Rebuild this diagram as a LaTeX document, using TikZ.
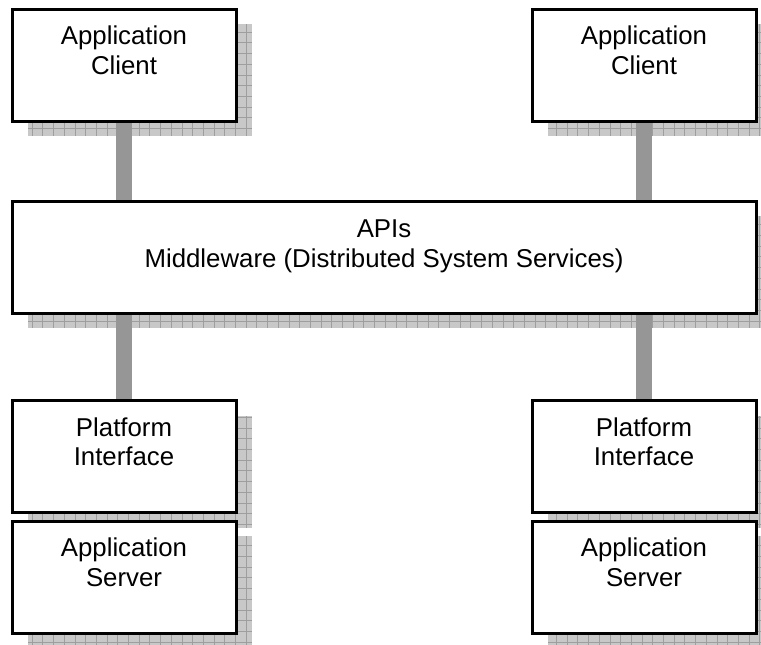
\documentclass[tikz,border=0pt]{standalone}
\usepackage{fontspec}
\setmainfont{Liberation Sans}
\usetikzlibrary{backgrounds}

\definecolor{shadefill}{RGB}{200,200,200}
\definecolor{shadegrid}{RGB}{158,158,158}
\definecolor{linkgray}{RGB}{150,150,150}

\tikzset{
  block/.style={draw=black, line width=3pt, fill=white, inner sep=0pt, outer sep=0pt,
    minimum width=224pt, minimum height=112pt, anchor=north west},
  wideblock/.style={block, minimum width=744pt},
  caption/.style={anchor=north, align=center, inner sep=0pt,
    font=\fontsize{25.8}{29.6}\selectfont},
  link/.style={draw=linkgray, line width=16pt},
}

% grid-textured drop shadow behind a block, offset right and down
\newcommand{\gridshade}[1]{%
  \begin{scope}
    \clip ([shift={(16,15)}]#1.north west) rectangle ([shift={(16,15)}]#1.south east);
    \fill[shadefill] ([shift={(16,15)}]#1.north west) rectangle ([shift={(16,15)}]#1.south east);
    \draw[shadegrid, line width=0.8pt, step=10.7pt]
      ([shift={(16,15)}]#1.north west) grid ([shift={(16,15)}]#1.south east);
  \end{scope}}

\begin{document}
\begin{tikzpicture}[x=1pt, y=-1pt]
  \useasboundingbox (0,0) rectangle (761,645);
  \clip (0,0) rectangle (761,645);

  % boxes
  \node[block] (clientL) at (12,9) {};
  \node[block] (clientR) at (532,9) {};
  \node[wideblock] (mw) at (12,201) {};
  \node[block] (platL) at (12,400.5) {};
  \node[block] (platR) at (532,400.5) {};
  \node[block] (srvL) at (12,521) {};
  \node[block] (srvR) at (532,521) {};

  % captions
  \node[caption] (clientLt) at ([yshift=-17pt]clientL.north) {Application\\Client};
  \node[caption] (clientRt) at ([yshift=-17pt]clientR.north) {Application\\Client};
  \node[caption] (mwt) at ([yshift=-19pt]mw.north) {APIs\\Middleware (Distributed System Services)};
  \node[caption] (platLt) at ([yshift=-17pt]platL.north) {Platform\\Interface};
  \node[caption] (platRt) at ([yshift=-17pt]platR.north) {Platform\\Interface};
  \node[caption] (srvLt) at ([yshift=-17pt]srvL.north) {Application\\Server};
  \node[caption] (srvRt) at ([yshift=-17pt]srvR.north) {Application\\Server};

  \begin{scope}[on background layer]
    % shadows
    \gridshade{clientL}
    \gridshade{clientR}
    \gridshade{mw}
    \gridshade{platL}
    \gridshade{platR}
    \gridshade{srvL}
    \gridshade{srvR}
    % connecting bars
    \draw[link] (clientL.south) -- (clientL.south |- mw.north);
    \draw[link] (clientR.south) -- (clientR.south |- mw.north);
    \draw[link] (platL.north |- mw.south) -- (platL.north);
    \draw[link] (platR.north |- mw.south) -- (platR.north);
  \end{scope}
\end{tikzpicture}
\end{document}
